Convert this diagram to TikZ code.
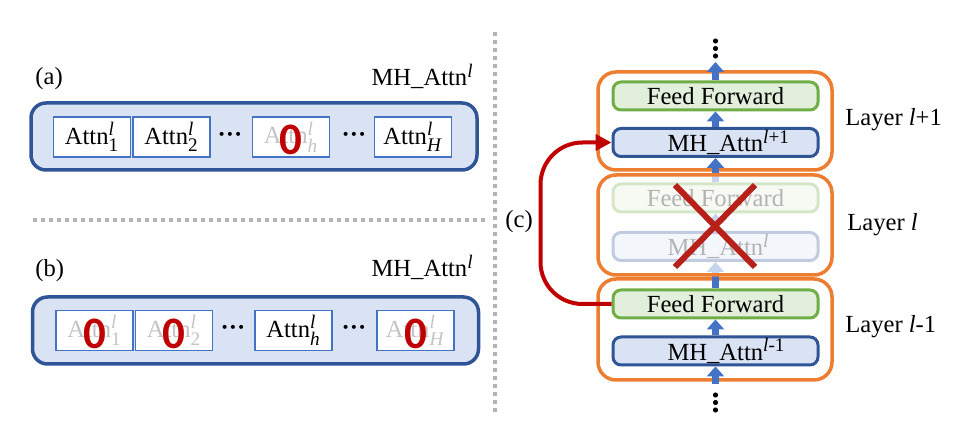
\documentclass[tikz,border=0pt]{standalone}
\usepackage{amsmath}
\usepackage{fontspec}
\setmainfont{Liberation Serif}
\newfontfamily\zerofont{Carlito}
\usetikzlibrary{arrows.meta}
\DeclareMathSizes{12.3}{12.3}{9.6}{7}

\definecolor{mhblue}{HTML}{2F5597}
\definecolor{mhfill}{HTML}{DAE3F3}
\definecolor{headblue}{HTML}{4472C4}
\definecolor{ffgreen}{HTML}{70AD47}
\definecolor{fffill}{HTML}{E2EFDA}
\definecolor{layerorange}{HTML}{ED7D31}
\definecolor{cutred}{HTML}{C00000}
\definecolor{crossred}{HTML}{B8201A}
\definecolor{fadegray}{HTML}{C4C4C4}
\definecolor{sepgray}{HTML}{B4B4B4}

\newcommand{\attn}[1]{Attn$^{\textit{l}}_{\text{#1}}$}
\newcommand{\mhname}[1]{\makebox[48pt][l]{MH\_Attn\textsuperscript{#1}}}
\newcommand{\headdots}{{\bfseries\textperiodcentered\textperiodcentered\textperiodcentered}}

\tikzset{
  mhbox/.style={draw=mhblue, fill=mhfill, line width=1.75pt, rounded corners=7.5pt,
    minimum width=223pt, minimum height=33.5pt},
  headbox/.style={draw=headblue, fill=white, line width=0.8pt, inner sep=0pt,
    minimum width=38.5pt, minimum height=20pt},
  offhead/.style={headbox, text=fadegray},
  zero/.style={text=cutred, inner sep=0pt, yshift=-1.5pt,
    font=\zerofont\bfseries\fontsize{22.5}{24}\selectfont},
  layerbox/.style={draw=layerorange, fill=white, line width=1.75pt, rounded corners=9pt,
    minimum width=117pt},
  ffblock/.style={draw=ffgreen, fill=fffill, line width=1.5pt, rounded corners=4pt,
    minimum width=102.5pt, minimum height=14pt, inner sep=0pt},
  mhblock/.style={ffblock, draw=mhblue, fill=mhfill},
  flow/.style={headblue, line width=3.5pt, -{Triangle[width=8.5pt,length=5pt]}},
  skiplink/.style={cutred, line width=2pt, rounded corners=21pt, -{Triangle[width=8pt,length=8pt]}},
  cutline/.style={crossred, line width=3pt},
  sepline/.style={sepgray, line width=2pt, dash pattern=on 2pt off 2pt},
  tag/.style={inner sep=0pt}
}

\begin{document}
\begin{tikzpicture}[x=0.5pt, y=-0.5pt, font=\fontsize{12.3}{14.5}\selectfont]
  \useasboundingbox (0,0) rectangle (966,444);
  %%% separators
  \draw[sepline] (33,220) -- (489,220);
  \draw[sepline] (495,32) -- (495,412);

  %%% (a) all heads kept, one head cut
  \node[tag, anchor=base west] (tagA) at (35,85) {(a)};
  \node[tag, anchor=base east] (nameA) at (474,86) {MH\_Attn\textsuperscript{\textit{l}}};
  \node[mhbox] (mhA) at (254,136.5) {};
  \node[headbox] (a1) at (92,137) {\attn{1}};
  \node[headbox] (a2) at (171.5,137) {\attn{2}};
  \node (dA1) at (230,137) {\headdots};
  \node[offhead] (ah) at (291,137) {\attn{\textit{h}}};
  \node[zero] (zA) at (ah.center) {0};
  \node (dA2) at (354,137) {\headdots};
  \node[headbox] (aH) at (413,137) {\attn{\textit{H}}};

  %%% (b) only one head kept
  \node[tag, anchor=base west] (tagB) at (35,277) {(b)};
  \node[tag, anchor=base east] (nameB) at (474,277) {MH\_Attn\textsuperscript{\textit{l}}};
  \node[mhbox] (mhB) at (255.5,330.5) {};
  \node[offhead] (b1) at (94.5,330.5) {\attn{1}};
  \node[zero] (zB1) at (b1.center) {0};
  \node[offhead] (b2) at (174,330.5) {\attn{2}};
  \node[zero] (zB2) at (b2.center) {0};
  \node (dB1) at (233,330.5) {\headdots};
  \node[headbox] (bh) at (293.5,330.5) {\attn{\textit{h}}};
  \node (dB2) at (354,330.5) {\headdots};
  \node[offhead] (bH) at (415.5,330.5) {\attn{\textit{H}}};
  \node[zero] (zB3) at (bH.center) {0};

  %%% (c) layer skipped
  \node[tag, anchor=base west] (tagC) at (505,228) {(c)};
  \node[layerbox, minimum height=49pt] (L3) at (715,121) {};
  \node[layerbox, minimum height=50.5pt] (L1) at (715,329.5) {};

  \node[ffblock] (ff3) at (715.5,96) {Feed Forward};
  \node[mhblock] (mh3) at (715.5,142.5) {\mhname{\textit{l}+1}};
  \node[ffblock] (ff2) at (715.5,198) {Feed Forward};
  \node[mhblock] (mh2) at (715.5,246.5) {\mhname{\textit{l}}};
  \node[ffblock] (ff1) at (715.5,304) {Feed Forward};
  \node[mhblock] (mh1) at (715.5,351) {\mhname{\textit{l}-1}};

  \coordinate (top) at (715.5,62);
  \coordinate (bottom) at (715.5,384);
  \draw[flow] (ff3.north) -- (top);
  \draw[flow] (mh3.north) -- (ff3.south);
  \draw[flow] (ff2.north) -- (mh3.south);
  \draw[flow] (mh2.north) -- (ff2.south);
  \draw[flow] (ff1.north) -- (mh2.south);
  \draw[flow] (mh1.north) -- (ff1.south);
  \draw[flow] (bottom) -- (mh1.south);
  \foreach \y in {41,48.5,56,395,402.5,410}
    \fill (715.5,\y) circle (1.3pt);

  % faded layer drawn on top
  \node[layerbox, fill opacity=0.7, minimum height=50pt] (L2) at (715,225) {};
  \draw[cutline] (675,185) -- (755,267);
  \draw[cutline] (755,185) -- (675,267);

  \draw[skiplink] (ff1.west) -- ++(-71,0) |- (mh3.west);

  \node[tag, anchor=base west] (lab3) at (845,126) {Layer \textit{l}+1};
  \node[tag, anchor=base west] (lab2) at (847,231) {Layer \textit{l}};
  \node[tag, anchor=base west] (lab1) at (845,333) {Layer \textit{l}-1};
\end{tikzpicture}
\end{document}
